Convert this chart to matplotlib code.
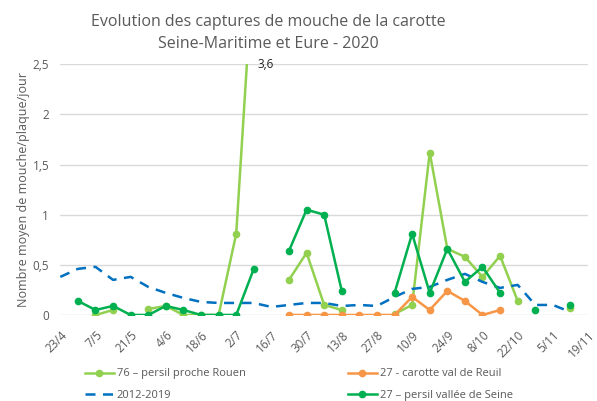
import matplotlib
matplotlib.use('Agg')
import matplotlib.pyplot as plt
import numpy as np

plt.rcParams['font.family'] = ['Open Sans', 'DejaVu Sans']

nan = np.nan

dates = ['23/4', '30/4', '7/5', '14/5', '21/5', '28/5', '4/6', '11/6', '18/6', '25/6',
         '2/7', '9/7', '16/7', '23/7', '30/7', '6/8', '13/8', '20/8', '27/8', '3/9',
         '10/9', '17/9', '24/9', '1/10', '8/10', '15/10', '22/10', '29/10', '5/11', '12/11',
         '19/11']

rouen = [nan, nan, 0, 0.05, nan, 0.06, 0.09, 0, 0, 0,
         0.81, 3.6, nan, 0.35, 0.62, 0.1, 0.05, nan, nan, 0.01,
         0.1, 1.62, 0.66, 0.58, 0.38, 0.59, 0.14, nan, nan, 0.07,
         nan]
reuil = [nan, nan, nan, nan, nan, nan, nan, nan, nan, nan,
         nan, nan, nan, 0, 0, 0, 0, 0, 0, 0,
         0.18, 0.05, 0.24, 0.14, 0, 0.05, nan, nan, nan, nan,
         nan]
ref = [0.38, 0.46, 0.48, 0.35, 0.38, 0.28, 0.22, 0.17, 0.13, 0.12,
       0.12, 0.12, 0.08, 0.1, 0.12, 0.12, 0.09, 0.1, 0.09, 0.18,
       0.26, 0.28, 0.35, 0.41, 0.33, 0.27, 0.3, 0.1, 0.1, 0.03,
       nan]
seine = [nan, 0.14, 0.05, 0.09, 0, 0, 0.09, 0.05, 0, 0,
         0, 0.46, nan, 0.64, 1.05, 1.0, 0.24, nan, nan, 0.22,
         0.81, 0.22, 0.66, 0.33, 0.48, 0.22, nan, 0.05, nan, 0.1,
         nan]

x = np.arange(len(dates))

fig = plt.figure(figsize=(5.97, 4.01), dpi=100)
ax = fig.add_axes([0.101, 0.2145, 0.884, 0.6252])

ax.plot(x, rouen, color='#92D050', lw=1.8, marker='o', ms=4.5, label='76 \u2013 persil proche Rouen')
ax.plot(x, reuil, color='#F79646', lw=1.8, marker='o', ms=4.5, label='27 - carotte val de Reuil')
ax.plot(x, ref, color='#0070C0', lw=1.8, ls=(0, (4, 3)), label='2012-2019')
ax.plot(x, seine, color='#00B050', lw=1.8, marker='o', ms=4.5, label='27 \u2013 persil vall\u00e9e de Seine')

ax.set_xlim(0, 30)
ax.set_ylim(0, 2.5)
ax.set_yticks([0, 0.5, 1, 1.5, 2, 2.5])
ax.set_yticklabels(['0', '0,5', '1', '1,5', '2', '2,5'])
ax.set_xticks(x[::2])
ax.set_xticklabels(dates[::2], rotation=45, ha='right', va='top', rotation_mode='anchor')
ax.tick_params(colors='#595959', labelsize=8.5, length=0)
ax.tick_params(axis='x', pad=10)
ax.tick_params(axis='y', pad=8)
ax.grid(axis='y', color='#D9D9D9', lw=1)
ax.set_axisbelow(True)
for s in ax.spines.values():
    s.set_visible(False)

ax.text(11.2, 2.5, '3,6', fontsize=8.5, color='#222222', va='center', ha='left')

ax.set_ylabel('Nombre moyen de mouche/plaque/jour', fontsize=9, color='#595959', labelpad=2)
fig.text(0.45, 0.918, 'Evolution des captures de mouche de la carotte\nSeine-Maritime et Eure - 2020',
         fontsize=11.5, color='#595959', ha='center', va='center', linespacing=1.45)

h, l = ax.get_legend_handles_labels()
order = [0, 2, 1, 3]
fig.legend([h[i] for i in order], [l[i] for i in order], ncol=2, loc='lower left',
           bbox_to_anchor=(0.125, -0.025), frameon=False, fontsize=8, labelcolor='#595959',
           columnspacing=9.2, handlelength=2.6, handletextpad=0.3, labelspacing=0.95)

fig.savefig('out.png', dpi=100)
